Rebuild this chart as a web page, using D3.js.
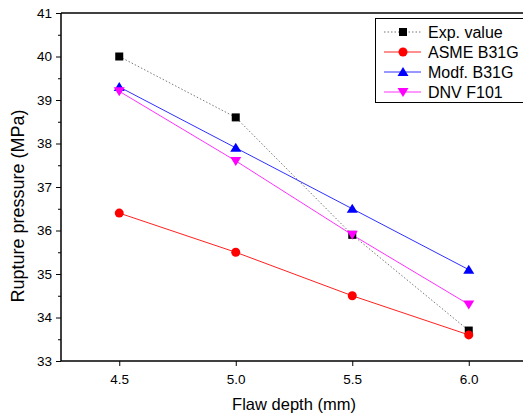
<!DOCTYPE html>
<html>
<head>
    <meta charset="utf-8">
    <title>Rupture pressure vs flaw depth</title>
    <script src="https://d3js.org/d3.v7.min.js"></script>
    <style>
        body { margin: 0; background: #fff; }
        text { font-family: Arial, 'Liberation Sans', sans-serif; fill: #000; }
    </style>
</head>
<body>
    <svg id="chart" width="523" height="416"></svg>
    <script>
        // data
        const depths = [4.5, 5.0, 5.5, 6.0];
        const expValue = [40.0, 38.6, 35.9, 33.7];
        const asme = [36.4, 35.5, 34.5, 33.6];
        const modf = [39.3, 37.9, 36.5, 35.1];
        const dnv = [39.2, 37.6, 35.9, 34.3];
        const yTicks = [33, 34, 35, 36, 37, 38, 39, 40, 41];
        const xTicks = [4.5, 5.0, 5.5, 6.0];

        const series = [
            {name: "Exp. value", values: expValue, line: "#777", marker: "square", fill: "#000", dash: "1.5,2"},
            {name: "ASME B31G", values: asme, line: "#ff2020", marker: "circle", fill: "#ff0000", dash: null},
            {name: "Modf. B31G", values: modf, line: "#3030ff", marker: "up", fill: "#0000ff", dash: null},
            {name: "DNV F101", values: dnv, line: "#ff30ff", marker: "down", fill: "#ff00ff", dash: null}
        ];

        const plotLeft = 61, plotTop = 13, plotBottom = 361;
        const svg = d3.select("#chart");

        const x = d3.scaleLinear().domain([4.25, 6.25]).range([plotLeft, plotLeft + 466]);
        const y = d3.scaleLinear().domain([33, 41]).range([plotBottom, plotTop]);

        // frame: top and bottom lines run to the edge, left axis line
        svg.append("line").attr("x1", plotLeft).attr("x2", 523).attr("y1", plotTop).attr("y2", plotTop)
            .attr("stroke", "#000").attr("stroke-width", 1.5);

        let xAxis = svg.append("g").attr("transform", `translate(0,${plotBottom})`)
            .call(d3.axisBottom(x).tickValues(xTicks).tickFormat(d3.format(".1f")).tickSize(5).tickPadding(8));
        xAxis.select(".domain").remove();
        svg.append("line").attr("x1", plotLeft).attr("x2", 523).attr("y1", plotBottom).attr("y2", plotBottom)
            .attr("stroke", "#000").attr("stroke-width", 1.5);

        let minorY = d3.range(33.5, 41, 1);
        svg.append("g").attr("transform", `translate(${plotLeft},0)`)
            .call(d3.axisLeft(y).tickValues(minorY).tickFormat("").tickSize(3))
            .select(".domain").remove();
        let yAxis = svg.append("g").attr("transform", `translate(${plotLeft},0)`)
            .call(d3.axisLeft(y).tickValues(yTicks).tickFormat(d3.format("d")).tickSize(5).tickPadding(4));
        yAxis.select(".domain").attr("stroke-width", 1.5).attr("d", `M0,${plotTop}V${plotBottom}`);

        svg.selectAll(".tick text").style("font-size", "13.5px").style("font-family", "Arial, 'Liberation Sans', sans-serif");
        svg.selectAll(".tick line").attr("stroke", "#000");

        svg.append("text").attr("x", x(5.25)).attr("y", 410).attr("text-anchor", "middle")
            .style("font-size", "16.5px").text("Flaw depth (mm)");
        svg.append("text").attr("transform", "translate(23.5,206) rotate(-90)")
            .attr("text-anchor", "middle").style("font-size", "18px").text("Rupture pressure (MPa)");

        function drawMarker(g, kind, color, cx, cy) {
            if (kind === "square") {
                g.append("rect").attr("x", cx - 4).attr("y", cy - 4).attr("width", 8).attr("height", 8).attr("fill", color);
            } else if (kind === "circle") {
                g.append("circle").attr("cx", cx).attr("cy", cy).attr("r", 4.5).attr("fill", color);
            } else if (kind === "up") {
                g.append("path").attr("d", `M${cx},${cy - 5}L${cx + 5.5},${cy + 4}L${cx - 5.5},${cy + 4}Z`).attr("fill", color);
            } else {
                g.append("path").attr("d", `M${cx},${cy + 5}L${cx + 5.5},${cy - 4}L${cx - 5.5},${cy - 4}Z`).attr("fill", color);
            }
        }

        const line = d3.line().x((d, i) => x(depths[i])).y(d => y(d));

        series.forEach(s => {
            svg.append("path").datum(s.values).attr("d", line).attr("fill", "none")
                .attr("stroke", s.line).attr("stroke-width", 1)
                .attr("stroke-dasharray", s.dash);
        });
        // markers on top, drawn in series order
        series.forEach(s => {
            let g = svg.append("g");
            s.values.forEach((v, i) => drawMarker(g, s.marker, s.fill, x(depths[i]), y(v)));
        });

        // legend
        let legend = svg.append("g");
        legend.append("rect").attr("x", 375.5).attr("y", 18.5).attr("width", 160).attr("height", 84)
            .attr("fill", "#fff").attr("stroke", "#000").attr("stroke-width", 1);
        series.forEach((s, i) => {
            let ly = 32 + i * 20;
            legend.append("line").attr("x1", 384).attr("x2", 421).attr("y1", ly).attr("y2", ly)
                .attr("stroke", s.line).attr("stroke-width", 1).attr("stroke-dasharray", s.dash);
            drawMarker(legend, s.marker, s.fill, 403, ly);
            legend.append("text").attr("x", 428).attr("y", ly + 6).style("font-size", "16px").text(s.name);
        });
    </script>
</body>
</html>
